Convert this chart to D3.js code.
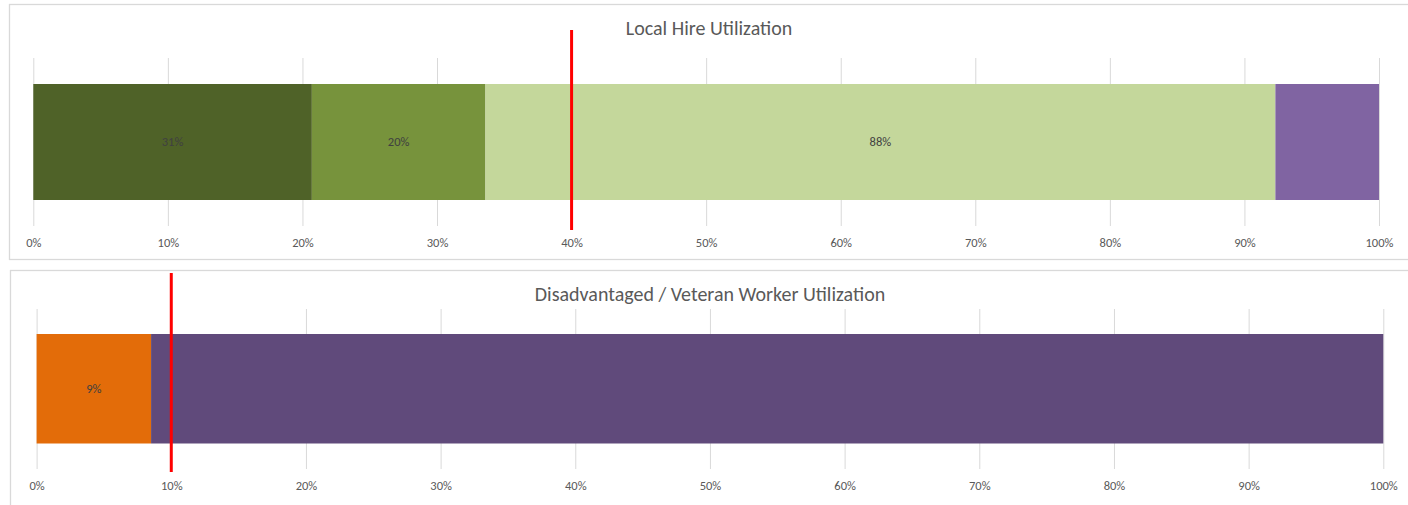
<!DOCTYPE html>
<html>
<head>
<meta charset="utf-8">
<script src="https://cdn.jsdelivr.net/npm/d3@7"></script>
<style>
  html, body { margin: 0; padding: 0; background: #ffffff; }
  svg { display: block; }
  text { font-family: Carlito, Lato, "Open Sans", sans-serif; }
</style>
</head>
<body>
<svg id="chart" width="1408" height="505"></svg>
<script>
// ---- Data ----
const tickValues = [0, 10, 20, 30, 40, 50, 60, 70, 80, 90, 100];

// Local Hire Utilization (stacked segment widths, % of total)
const localTitle = "Local Hire Utilization";
const localSegments = ["Segment A", "Segment B", "Segment C", "Segment D"];
const localValues = [20.7, 12.9, 58.7, 7.7];
const localLabels = ["31%", "20%", "88%", ""];
const localTarget = 40;

// Disadvantaged / Veteran Worker Utilization
const dvTitle = "Disadvantaged / Veteran Worker Utilization";
const dvSegments = ["Segment A", "Segment B"];
const dvValues = [8.5, 91.5];
const dvLabels = ["9%", ""];
const dvTarget = 10;

const localColors = ["#4F6228", "#77933C", "#C4D79B", "#8064A2"];
const dvColors = ["#E36C09", "#604A7B"];

const svg = d3.select("#chart");

function panel(cfg) {
  const g = svg.append("g");
  // panel border
  g.append("rect")
    .attr("x", cfg.box[0]).attr("y", cfg.box[1])
    .attr("width", cfg.box[2]).attr("height", cfg.box[3])
    .attr("fill", "#fff").attr("stroke", "#D9D9D9").attr("stroke-width", 1.3);

  const x = d3.scaleLinear().domain([0, 100]).range(cfg.range);

  // title
  g.append("text")
    .attr("x", cfg.titleX).attr("y", cfg.titleY)
    .attr("text-anchor", "middle")
    .attr("fill", "#595959")
    .style("font-size", "20px")
    .text(cfg.title);

  // axis with gridlines
  const axis = d3.axisBottom(x)
    .tickValues(tickValues)
    .tickFormat(d => d + "%")
    .tickSize(-(cfg.gridBottom - cfg.gridTop))
    .tickPadding(12);
  const ax = g.append("g")
    .attr("transform", `translate(0,${cfg.gridBottom})`)
    .call(axis);
  ax.select(".domain").remove();
  ax.selectAll(".tick line").attr("stroke", "#D9D9D9").attr("stroke-width", 1);
  ax.selectAll(".tick text")
    .attr("fill", "#595959")
    .style("font-size", "12.5px")
    .style("font-family", "Carlito, Lato, 'Open Sans', sans-serif");

  // stacked bars
  const data = [];
  let acc = 0;
  cfg.values.forEach((v, i) => {
    data.push({ name: cfg.segments[i], x0: acc, x1: acc + v, label: cfg.labels[i], color: cfg.colors[i] });
    acc += v;
  });
  g.selectAll("rect.seg").data(data).enter().append("rect")
    .attr("class", "seg")
    .attr("x", d => x(d.x0))
    .attr("width", d => x(d.x1) - x(d.x0))
    .attr("y", cfg.barTop)
    .attr("height", cfg.barBottom - cfg.barTop)
    .attr("fill", d => d.color);

  g.selectAll("text.lbl").data(data.filter(d => d.label)).enter().append("text")
    .attr("class", "lbl")
    .attr("x", d => (x(d.x0) + x(d.x1)) / 2)
    .attr("y", (cfg.barTop + cfg.barBottom) / 2)
    .attr("dy", "0.35em")
    .attr("text-anchor", "middle")
    .attr("fill", "#404040")
    .style("font-size", "12.5px")
    .text(d => d.label);

  // target line
  g.append("line")
    .attr("x1", x(cfg.target)).attr("x2", x(cfg.target))
    .attr("y1", cfg.lineTop).attr("y2", cfg.lineBottom)
    .attr("stroke", "#FF0000").attr("stroke-width", 3);
}

panel({
  box: [9.5, 4.5, 1410, 255],
  range: [33.3, 1379],
  title: localTitle, titleX: 709, titleY: 35,
  gridTop: 58, gridBottom: 226,
  barTop: 84, barBottom: 200,
  lineTop: 30, lineBottom: 230,
  segments: localSegments, values: localValues, labels: localLabels, colors: localColors,
  target: localTarget
});

panel({
  box: [10.5, 270.5, 1410, 250],
  range: [36.6, 1383.3],
  title: dvTitle, titleX: 710, titleY: 301,
  gridTop: 309, gridBottom: 469,
  barTop: 334, barBottom: 443.5,
  lineTop: 273, lineBottom: 472,
  segments: dvSegments, values: dvValues, labels: dvLabels, colors: dvColors,
  target: dvTarget
});
</script>
</body>
</html>
